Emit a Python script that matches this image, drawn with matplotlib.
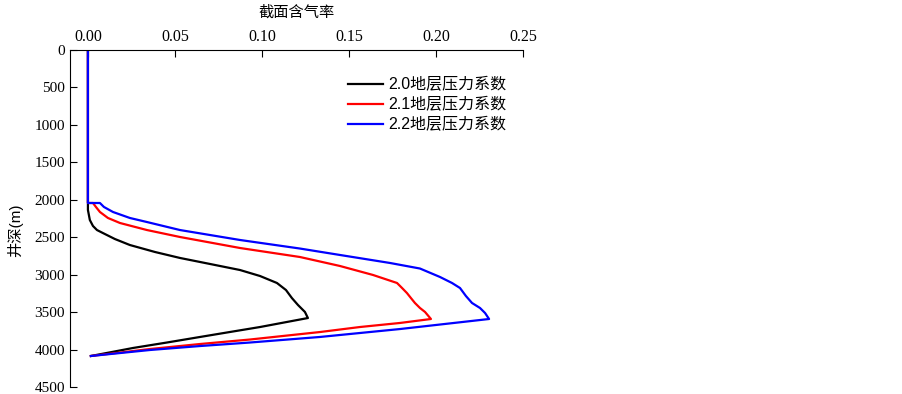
import matplotlib
matplotlib.use("Agg")
import matplotlib.pyplot as plt

plt.rcParams['font.family'] = ['Liberation Serif', 'Noto Sans CJK SC']

# 截面含气率 vs 井深
x_20 = [0.0, 0.0, 0.0, 0.0011, 0.0029, 0.0052, 0.0086, 0.0155, 0.0241, 0.0385, 0.0529, 0.0701, 0.0874,
        0.0989, 0.1086, 0.1138, 0.1172, 0.1207, 0.1247, 0.1264,
        0.0989, 0.0833, 0.0644, 0.0454, 0.0259, 0.0017]
d_20 = [0, 2043, 2136, 2270, 2350, 2404, 2444, 2524, 2604, 2697, 2777, 2857, 2938,
        3018, 3111, 3205, 3312, 3405, 3498, 3579,
        3699, 3759, 3832, 3906, 3979, 4086]

x_21 = [0.0, 0.0, 0.0029, 0.0046, 0.0069, 0.0115, 0.0184, 0.0339, 0.0529, 0.0874, 0.1218, 0.1448, 0.1638,
        0.1776, 0.1805, 0.1833, 0.1856, 0.1879, 0.1908, 0.1937, 0.1971,
        0.1793, 0.1563, 0.1333, 0.0931, 0.0644, 0.0356, 0.0017]
d_21 = [0, 2043, 2043, 2096, 2163, 2243, 2310, 2404, 2497, 2644, 2764, 2884, 3004,
        3111, 3178, 3245, 3312, 3378, 3445, 3498, 3592,
        3645, 3699, 3766, 3866, 3926, 3993, 4086]

x_22 = [0.0, 0.0, 0.0069, 0.0092, 0.0144, 0.0241, 0.0339, 0.0529, 0.0874, 0.1218, 0.1448, 0.1736, 0.1908,
        0.2023, 0.2092, 0.2138, 0.2172, 0.2207, 0.2253, 0.2282, 0.2305,
        0.1793, 0.1333, 0.0931, 0.0644, 0.0356, 0.0017]
d_22 = [0, 2043, 2043, 2096, 2163, 2243, 2297, 2404, 2537, 2651, 2737, 2844, 2918,
        3031, 3111, 3178, 3285, 3378, 3445, 3512, 3592,
        3726, 3832, 3906, 3953, 4006, 4086]

labels = ["2.0地层压力系数", "2.1地层压力系数", "2.2地层压力系数"]

fig = plt.figure(figsize=(9.03, 3.94), dpi=100)
ax = fig.add_axes([70/903, 1-387/394, 453/903, 337/394])

ax.plot(x_20, d_20, color="black", lw=1.6, label=labels[0])
ax.plot(x_21, d_21, color="red", lw=1.6, label=labels[1])
ax.plot(x_22, d_22, color="blue", lw=1.6, label=labels[2])

ax.set_xlim(-0.0103, 0.25)
ax.set_ylim(4500, 0)
ax.set_xticks([0, 0.05, 0.10, 0.15, 0.20, 0.25])
ax.set_xticklabels(["0.00", "0.05", "0.10", "0.15", "0.20", "0.25"])
ax.set_yticks(range(0, 4501, 500))
ax.xaxis.tick_top()
ax.xaxis.set_label_position("top")
ax.tick_params(direction="in", length=5, top=True, bottom=False)
ax.tick_params(axis="x", labelsize=11.5)
ax.tick_params(axis="y", labelsize=11)
ax.spines["right"].set_visible(False)
ax.spines["bottom"].set_visible(False)

ax.set_xlabel("截面含气率", fontsize=11, family=['Noto Sans CJK SC'], labelpad=9)
ax.set_ylabel("井深(m)", fontsize=11, family=['Liberation Sans', 'Noto Sans CJK SC'])
ax.yaxis.set_label_coords(-0.104, 0.466)

ax.legend(loc="upper left", bbox_to_anchor=(0.582, 0.962), frameon=False, handlelength=2.2,
          handletextpad=0.3, labelspacing=0.3,
          prop={'family': ['Liberation Sans', 'Noto Sans CJK SC'], 'size': 11.5})

fig.savefig("out.png", dpi=100)
